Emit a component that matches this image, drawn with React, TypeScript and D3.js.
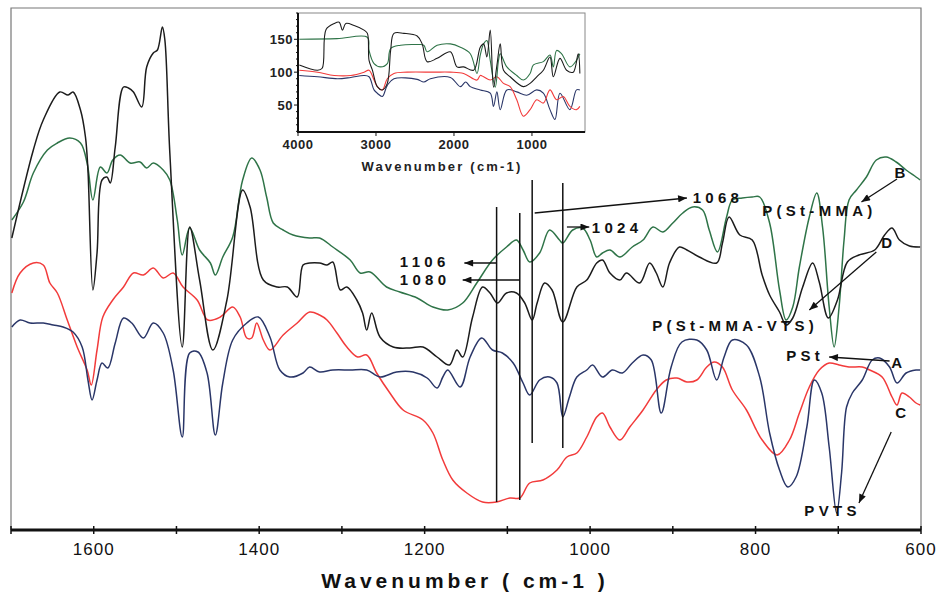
import * as d3 from "d3";
import { useEffect, useRef } from "react";

// main spectra: [wavenumber, transmittance (a.u.)]
const curveD = [[1699,292],[1673,380],[1661,410],[1641,438],[1631,435],[1625,438],[1616,420],[1610,393],[1607,360],[1601,240],[1596,277],[1590,350],[1584,353],[1580,347],[1574,383],[1564,443],[1558,442],[1552,438],[1542,423],[1536,463],[1528,477],[1523,480],[1517,503],[1514,490],[1508,377],[1493,183],[1484,303],[1472,250],[1456,180],[1439,230],[1420,340],[1411,323],[1395,250],[1378,243],[1366,243],[1354,233],[1347,265],[1339,267],[1327,267],[1318,265],[1311,268],[1302,240],[1294,243],[1282,230],[1275,217],[1270,200],[1264,217],[1254,193],[1238,183],[1218,182],[1202,183],[1185,173],[1170,165],[1161,180],[1154,173],[1142,213],[1130,243],[1121,237],[1112,227],[1101,237],[1089,237],[1079,227],[1070,210],[1064,227],[1055,247],[1046,240],[1033,208],[1016,243],[1004,250],[992,267],[985,270],[976,257],[964,250],[956,257],[940,247],[928,267],[920,257],[912,243],[904,267],[892,283],[883,280],[868,273],[847,267],[840,287],[832,313],[819,295],[804,290],[792,255],[783,235],[771,218],[763,205],[755,212],[743,243],[731,267],[723,248],[712,212],[701,230],[689,268],[675,275],[656,280],[644,295],[635,302],[626,290],[614,284],[601,283]];

const curveB = [[1699,310],[1685,328],[1673,357],[1656,380],[1644,387],[1629,392],[1616,387],[1608,367],[1601,330],[1592,363],[1584,357],[1577,370],[1568,375],[1556,367],[1544,368],[1536,362],[1528,367],[1516,360],[1508,350],[1499,310],[1493,275],[1484,302],[1472,280],[1459,267],[1453,255],[1444,273],[1432,293],[1420,350],[1409,372],[1399,360],[1391,333],[1383,307],[1371,300],[1359,295],[1339,292],[1327,292],[1311,283],[1290,270],[1278,257],[1266,258],[1246,243],[1230,238],[1209,232],[1190,223],[1172,220],[1154,227],[1137,247],[1118,270],[1101,283],[1089,290],[1081,280],[1073,268],[1061,277],[1049,300],[1037,290],[1033,287],[1021,300],[1009,302],[1000,290],[992,273],[985,277],[976,280],[964,273],[949,283],[936,290],[924,303],[912,298],[900,307],[888,317],[876,323],[864,320],[856,300],[846,278],[835,313],[828,330],[816,332],[804,333],[795,333],[783,307],[771,240],[763,210],[755,223],[747,263],[735,313],[726,337],[719,303],[711,223],[705,183],[699,223],[693,290],[687,330],[678,340],[666,353],[654,370],[642,373],[630,368],[618,360],[606,353],[601,350]];

const curveC = [[1699,237],[1689,257],[1673,267],[1661,265],[1653,247],[1644,237],[1632,210],[1620,183],[1608,160],[1603,145],[1596,180],[1589,213],[1577,230],[1564,243],[1552,257],[1540,255],[1528,262],[1516,252],[1504,257],[1492,243],[1475,230],[1462,210],[1447,213],[1432,223],[1423,213],[1415,192],[1409,192],[1403,207],[1395,190],[1387,180],[1371,195],[1354,207],[1339,218],[1327,215],[1318,210],[1306,197],[1294,183],[1281,173],[1270,175],[1258,157],[1242,137],[1226,120],[1202,110],[1190,97],[1178,70],[1166,50],[1149,37],[1130,28],[1113,28],[1097,32],[1085,32],[1073,47],[1057,50],[1040,60],[1028,73],[1016,77],[1004,93],[992,113],[985,117],[976,103],[964,90],[952,103],[936,120],[920,140],[908,150],[895,152],[883,148],[871,150],[859,163],[850,168],[840,163],[828,140],[811,120],[799,100],[792,90],[774,75],[759,90],[747,117],[735,143],[723,160],[711,167],[699,165],[687,163],[671,163],[662,160],[647,153],[635,133],[629,125],[623,137],[614,133],[606,127],[601,125]];

const curveA = [[1699,203],[1689,210],[1677,207],[1661,207],[1649,205],[1637,203],[1625,198],[1614,183],[1607,150],[1602,130],[1596,150],[1590,167],[1583,162],[1574,187],[1564,212],[1554,207],[1540,192],[1528,207],[1516,197],[1504,160],[1493,93],[1484,177],[1474,178],[1463,157],[1453,95],[1444,147],[1432,190],[1415,207],[1401,213],[1387,193],[1375,160],[1363,153],[1347,157],[1339,163],[1327,158],[1311,160],[1290,160],[1270,160],[1254,153],[1234,158],[1214,158],[1197,152],[1185,142],[1178,153],[1172,160],[1157,143],[1145,173],[1131,192],[1118,180],[1106,177],[1093,167],[1081,147],[1073,135],[1061,150],[1049,153],[1040,147],[1033,113],[1025,133],[1016,153],[1004,160],[997,165],[985,153],[973,160],[961,157],[949,167],[936,175],[926,170],[914,117],[902,163],[889,188],[871,190],[859,180],[847,150],[838,173],[828,190],[811,185],[795,153],[783,97],[771,60],[761,43],[751,53],[738,103],[729,150],[720,137],[711,83],[702,17],[696,57],[690,123],[683,137],[671,150],[659,170],[650,172],[638,163],[629,147],[618,157],[606,160],[601,160]];

// inset spectra, full range
const insetD = [[3983,111],[3749,103],[3690,106],[3640,165],[3536,174],[3472,176],[3430,164],[3387,174],[3280,171],[3153,164],[3110,159],[3089,118],[3046,103],[2983,78],[2919,73],[2855,83],[2812,133],[2770,159],[2642,159],[2472,155],[2408,143],[2344,116],[2216,121],[2046,131],[1961,108],[1876,108],[1748,103],[1663,138],[1620,143],[1578,123],[1535,164],[1493,77],[1450,110],[1407,143],[1365,103],[1280,93],[1110,78],[1024,83],[939,93],[854,103],[769,123],[726,93],[641,121],[556,103],[471,100],[407,128],[386,98]];
const insetB = [[3983,150],[3500,151],[3110,153],[3089,133],[3025,113],[2940,108],[2855,113],[2812,136],[2685,141],[2472,142],[2387,141],[2344,131],[2216,141],[2046,143],[1918,138],[1791,128],[1705,98],[1663,126],[1620,143],[1578,148],[1535,118],[1471,77],[1429,118],[1407,128],[1322,108],[1195,95],[1110,88],[1024,98],[981,111],[854,116],[769,126],[726,108],[684,133],[620,128],[514,108],[429,118],[386,128]];
const insetC = [[3983,103],[3749,100],[3536,95],[3323,95],[3153,100],[3089,103],[3025,88],[2983,78],[2919,73],[2855,90],[2770,98],[2600,100],[2259,100],[2046,100],[1876,98],[1705,88],[1663,95],[1620,93],[1535,88],[1450,93],[1365,83],[1280,78],[1195,58],[1110,33],[1024,43],[939,58],[854,53],[769,73],[684,58],[599,63],[514,48],[429,43],[386,48]];
const insetA = [[3983,95],[3749,93],[3493,90],[3323,92],[3153,95],[3089,93],[3025,73],[2983,68],[2919,63],[2855,80],[2770,90],[2472,89],[2387,85],[2302,90],[2046,92],[1918,78],[1850,85],[1791,78],[1663,73],[1535,68],[1493,48],[1450,70],[1407,43],[1322,73],[1195,70],[1067,65],[939,73],[854,68],[769,43],[705,28],[641,68],[514,43],[429,73],[386,73]];

const xTicks = d3.range(1700, 599, -100);
const xLabels = [1600, 1400, 1200, 1000, 800, 600];
const insetXTicks = [4000, 3000, 2000, 1000];
const insetYTicks = [50, 100, 150];

// vertical marker lines: wavenumber, top, bottom
const markers = [[1113, 323, 28], [1085, 317, 30], [1070, 350, 87], [1033, 347, 82]];

// arrows: [w1, v1, w2, v2] head at second point
const arrows = [
  [1113, 267, 1152, 267],
  [1085, 250, 1154, 250],
  [1067, 317, 883, 332],
  [1028, 303, 1001, 303],
  [629, 351, 672, 328],
  [654, 278, 735, 220],
  [638, 169, 711, 173],
  [636, 98, 675, 27],
];

const labels = [
  ["1106", 1230, 263],
  ["1080", 1230, 245],
  ["1068", 876, 327],
  ["1024", 998, 297],
  ["P(St-MMA)", 792, 314],
  ["B", 632, 352],
  ["D", 648, 282],
  ["P(St-MMA-VTS)", 925, 199],
  ["PSt", 763, 169],
  ["A", 636, 162],
  ["C", 631, 112],
  ["PVTS", 741, 14],
];

const colors = { D: "#1c1c1c", B: "#2f7448", C: "#f23b3b", A: "#2a3668" };

function App() {
  const ref = useRef(null);

  useEffect(() => {
    const svg = d3.select(ref.current);
    svg.selectAll("*").remove();
    const font = "'Liberation Sans', Arial, sans-serif";

    const x = d3.scaleLinear().domain([1700, 600]).range([11, 921]);
    const y = d3.scaleLinear().domain([0, 522]).range([530, 8]);

    svg.append("rect").attr("width", 937).attr("height", 592).attr("fill", "#fff");

    svg.append("defs").append("marker")
      .attr("id", "head")
      .attr("viewBox", "0 0 10 8")
      .attr("refX", 10).attr("refY", 4)
      .attr("markerWidth", 11).attr("markerHeight", 7)
      .attr("markerUnits", "userSpaceOnUse")
      .attr("orient", "auto")
      .append("path").attr("d", "M0,0L10,4L0,8Z").attr("fill", "#111");

    // frame
    svg.append("path")
      .attr("d", `M${x(1700)},530V8H${x(600)}V530`)
      .attr("fill", "none").attr("stroke", "#777").attr("stroke-width", 1.2);

    const line = d3.line().x(d => x(d[0])).y(d => y(d[1])).curve(d3.curveCatmullRom.alpha(0.5));
    const series = [[curveC, colors.C], [curveA, colors.A], [curveB, colors.B], [curveD, colors.D]];
    svg.append("g").selectAll("path").data(series).enter().append("path")
      .attr("d", d => line(d[0]))
      .attr("fill", "none")
      .attr("stroke", d => d[1])
      .attr("stroke-width", 1.5);

    // marker lines
    svg.append("g").selectAll("line").data(markers).enter().append("line")
      .attr("x1", d => x(d[0])).attr("x2", d => x(d[0]))
      .attr("y1", d => y(d[1])).attr("y2", d => y(d[2]))
      .attr("stroke", "#111").attr("stroke-width", 1.5);

    svg.append("g").selectAll("line").data(arrows).enter().append("line")
      .attr("x1", d => x(d[0])).attr("y1", d => y(d[1]))
      .attr("x2", d => x(d[2])).attr("y2", d => y(d[3]))
      .attr("stroke", "#111").attr("stroke-width", 1.3)
      .attr("marker-end", "url(#head)");

    svg.append("g").selectAll("text").data(labels).enter().append("text")
      .attr("x", d => x(d[1])).attr("y", d => y(d[2]))
      .attr("font-family", font).attr("font-weight", "bold")
      .attr("font-size", 15).attr("letter-spacing", 4.3)
      .attr("fill", "#111")
      .text(d => d[0]);

    // bottom axis
    const axis = svg.append("g");
    axis.append("line").attr("x1", x(1700)).attr("x2", x(600)).attr("y1", 530).attr("y2", 530)
      .attr("stroke", "#111").attr("stroke-width", 3);
    axis.selectAll(".tk").data(xTicks).enter().append("line")
      .attr("x1", d => x(d)).attr("x2", d => x(d)).attr("y1", 526).attr("y2", 534)
      .attr("stroke", "#111").attr("stroke-width", 1.5);
    axis.selectAll("text").data(xLabels).enter().append("text")
      .attr("x", d => x(d)).attr("y", 555)
      .attr("text-anchor", "middle")
      .attr("font-family", font).attr("font-size", 17).attr("letter-spacing", 1)
      .attr("fill", "#111")
      .text(d => d);
    svg.append("text").attr("x", 465).attr("y", 588).attr("text-anchor", "middle")
      .attr("font-family", font).attr("font-weight", "bold").attr("font-size", 21)
      .attr("letter-spacing", 4).attr("fill", "#111")
      .text("Wavenumber ( cm-1 )");

    // inset
    const ix = d3.scaleLinear().domain([4000, 320]).range([298, 585]);
    const iy = d3.scaleLinear().domain([9, 190]).range([132, 13]);
    const inset = svg.append("g");
    inset.append("rect").attr("x", 298).attr("y", 13).attr("width", 287).attr("height", 119)
      .attr("fill", "#fff").attr("stroke", "#888").attr("stroke-width", 1);
    const iline = d3.line().x(d => ix(d[0])).y(d => iy(d[1])).curve(d3.curveCatmullRom.alpha(0.5));
    const iseries = [[insetA, colors.A], [insetC, colors.C], [insetB, colors.B], [insetD, colors.D]];
    inset.selectAll(".s").data(iseries).enter().append("path")
      .attr("d", d => iline(d[0]))
      .attr("fill", "none").attr("stroke", d => d[1]).attr("stroke-width", 1.1);
    inset.append("path").attr("d", "M298,13V132H585")
      .attr("fill", "none").attr("stroke", "#111").attr("stroke-width", 2);
    inset.selectAll(".yt").data(d3.range(10, 191, 10)).enter().append("line")
      .attr("x1", 298).attr("x2", d => (d % 50 === 0 ? 294 : 296))
      .attr("y1", d => iy(d)).attr("y2", d => iy(d))
      .attr("stroke", "#111").attr("stroke-width", 1);
    inset.selectAll(".xt").data(insetXTicks).enter().append("line")
      .attr("x1", d => ix(d)).attr("x2", d => ix(d)).attr("y1", 132).attr("y2", 136)
      .attr("stroke", "#111").attr("stroke-width", 1);
    inset.selectAll(".yl").data(insetYTicks).enter().append("text")
      .attr("x", 293).attr("y", d => iy(d) + 4.5).attr("text-anchor", "end")
      .attr("font-family", font).attr("font-weight", "bold").attr("font-size", 13)
      .attr("letter-spacing", 0.5).attr("fill", "#222")
      .text(d => d);
    inset.selectAll(".xl").data(insetXTicks).enter().append("text")
      .attr("x", d => ix(d)).attr("y", 149).attr("text-anchor", "middle")
      .attr("font-family", font).attr("font-weight", "bold").attr("font-size", 13)
      .attr("letter-spacing", 0.5).attr("fill", "#222")
      .text(d => d);
    inset.append("text").attr("x", 442).attr("y", 171).attr("text-anchor", "middle")
      .attr("font-family", font).attr("font-weight", "bold").attr("font-size", 13)
      .attr("letter-spacing", 2.2).attr("fill", "#222")
      .text("Wavenumber (cm-1)");
  }, []);

  return (
    <svg ref={ref} width={937} height={592} style={{ position: "absolute", left: 0, top: 0 }}></svg>
  );
}

export default App;
